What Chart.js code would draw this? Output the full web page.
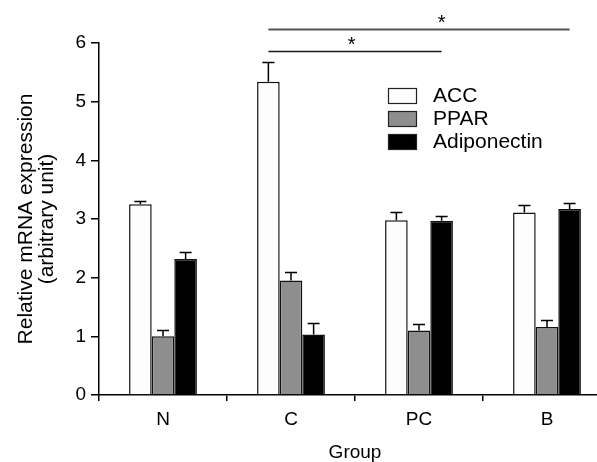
<!DOCTYPE html>
<html>
<head>
<meta charset="utf-8">
<script src="https://cdn.jsdelivr.net/npm/chart.js@4/dist/chart.umd.min.js"></script>
<style>
  html, body { margin: 0; padding: 0; background: #fff; overflow: hidden; }
  #wrap { width: 611px; height: 462px; }
</style>
</head>
<body>
<div id="wrap"><canvas id="mrnaChart" width="611" height="462"></canvas></div>
<script>
const groups = ["N", "C", "PC", "B"];
const seriesNames = ["ACC", "PPAR", "Adiponectin"];

const accValues = [3.25, 5.34, 2.98, 3.11];
const accErrors = [0.06, 0.33, 0.14, 0.13];

const pparValues = [1.0, 1.95, 1.1, 1.16];
const pparErrors = [0.1, 0.15, 0.11, 0.12];

const adipoValues = [2.32, 1.03, 2.97, 3.17];
const adipoErrors = [0.11, 0.2, 0.08, 0.11];

const yTicks = [0, 1, 2, 3, 4, 5, 6];
const yTitle = ["Relative mRNA expression", "(arbitrary unit)"];

// significance brackets: [fromGroup, fromSeries, toGroup, toSeries, height]
const sigBrackets = [
  [1, 0, 2, 2, 5.86],
  [1, 0, 3, 2, 6.24],
];

Chart.defaults.font.family = "'Liberation Sans', Arial, sans-serif";
Chart.defaults.color = "#000";

const errorBarPlugin = {
  id: "errorBars",
  afterDatasetsDraw(chart) {
    const ctx = chart.ctx;
    const y = chart.scales.y;
    ctx.save();
    ctx.strokeStyle = "#000";
    ctx.lineWidth = 1.5;
    chart.data.datasets.forEach((ds, di) => {
      const meta = chart.getDatasetMeta(di);
      meta.data.forEach((bar, i) => {
        const top = Math.round(y.getPixelForValue(ds.data[i] + ds.errors[i])) + 0.5;
        ctx.beginPath();
        ctx.moveTo(bar.x, bar.y);
        ctx.lineTo(bar.x, top);
        ctx.moveTo(bar.x - 6, top);
        ctx.lineTo(bar.x + 6, top);
        ctx.stroke();
      });
    });
    ctx.restore();
  },
};

const bracketPlugin = {
  id: "brackets",
  afterDraw(chart) {
    const ctx = chart.ctx;
    const y = chart.scales.y;
    const starAt = [0.48, 0.575];
    const looks = [["#1a1a1a", 1.5], ["#555", 2]];
    ctx.save();
    ctx.fillStyle = "#000";
    ctx.font = "20px 'Liberation Sans', Arial, sans-serif";
    ctx.textAlign = "center";
    ctx.textBaseline = "alphabetic";
    sigBrackets.forEach(([g1, s1, g2, s2, h], k) => {
      const x1 = chart.getDatasetMeta(s1).data[g1].x;
      const x2 = chart.getDatasetMeta(s2).data[g2].x;
      const py = Math.round(y.getPixelForValue(h)) + 0.5;
      ctx.strokeStyle = looks[k][0];
      ctx.lineWidth = looks[k][1];
      ctx.beginPath();
      ctx.moveTo(x1, py);
      ctx.lineTo(x2, py);
      ctx.stroke();
      ctx.fillText("*", x1 + (x2 - x1) * starAt[k], py - 1);
    });
    ctx.restore();
  },
};

const legendPlugin = {
  id: "boxLegend",
  afterDraw(chart) {
    const ctx = chart.ctx;
    const left = 388, top = 88, rowGap = 23;
    ctx.save();
    ctx.font = "21px 'Liberation Sans', Arial, sans-serif";
    ctx.textBaseline = "middle";
    ctx.textAlign = "left";
    chart.data.datasets.forEach((ds, i) => {
      const ty = top + i * rowGap;
      ctx.fillStyle = ds.backgroundColor;
      ctx.fillRect(left, ty, 29, 15);
      ctx.strokeStyle = "#222";
      ctx.lineWidth = 1.2;
      ctx.strokeRect(left + 0.5, ty + 0.5, 28, 15);
      ctx.fillStyle = "#000";
      ctx.fillText(ds.label, left + 45, ty + 8.5);
    });
    ctx.restore();
  },
};

const yTitlePlugin = {
  id: "yTitle",
  afterDraw(chart) {
    const ctx = chart.ctx;
    const area = chart.chartArea;
    const midY = (area.top + area.bottom) / 2;
    ctx.save();
    ctx.font = "21px 'Liberation Sans', Arial, sans-serif";
    ctx.fillStyle = "#000";
    ctx.textAlign = "center";
    ctx.textBaseline = "alphabetic";
    [32, 53].forEach((bx, i) => {
      ctx.save();
      ctx.translate(bx, midY);
      ctx.rotate(-Math.PI / 2);
      ctx.fillText(yTitle[i], 0, 0);
      ctx.restore();
    });
    ctx.restore();
  },
};

const makeSet = (label, values, errors, fill) => ({
  label,
  data: values,
  errors,
  backgroundColor: fill,
  borderColor: "#111",
  borderWidth: 1.5,
  categoryPercentage: 0.53,
  barPercentage: 1.0,
});

const data = {
  labels: groups,
  datasets: [
    makeSet(seriesNames[0], accValues, accErrors, "#fdfdfd"),
    makeSet(seriesNames[1], pparValues, pparErrors, "#8e8e8e"),
    makeSet(seriesNames[2], adipoValues, adipoErrors, "#000000"),
  ],
};

const options = {
  responsive: false,
  animation: false,
  layout: { padding: { top: 43, right: 0, left: 0, bottom: 0 } },
  plugins: {
    legend: { display: false },
    tooltip: { enabled: false },
  },
  scales: {
    x: {
      grid: { drawOnChartArea: false, drawTicks: true, tickLength: 6, color: "#000", lineWidth: 1.5 },
      border: { color: "#000", width: 1.5 },
      ticks: { font: { size: 19 }, padding: 7 },
      title: { display: true, text: "Group", font: { size: 19, lineHeight: 1.0 }, padding: { top: 4, bottom: 0 } },
      afterFit: (scale) => { scale.height = 67; },
    },
    y: {
      min: 0,
      max: 6,
      afterBuildTicks: (scale) => { scale.ticks = yTicks.map((v) => ({ value: v })); },
      grid: { drawOnChartArea: false, drawTicks: true, tickLength: 8, color: "#000", lineWidth: 1.5 },
      border: { color: "#000", width: 1.5 },
      ticks: { font: { size: 19 }, padding: 5 },
      afterFit: (scale) => { scale.width = 99; },
    },
  },
};

new Chart("mrnaChart", {
  type: "bar",
  data,
  options,
  plugins: [errorBarPlugin, bracketPlugin, legendPlugin, yTitlePlugin],
});
</script>
</body>
</html>
